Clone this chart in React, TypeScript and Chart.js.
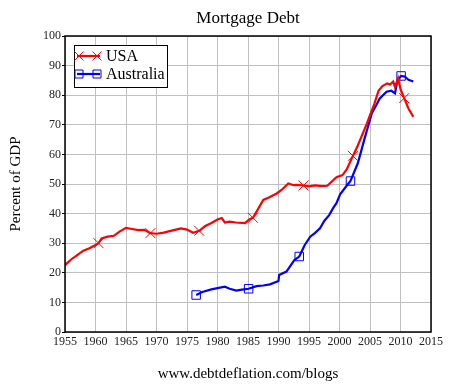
import React, { useEffect, useRef } from "react";
import { Chart, registerables } from "chart.js";
Chart.register(...registerables);

const titleText = "Mortgage Debt";
const yAxisTitle = "Percent of GDP";
const footerText = "www.debtdeflation.com/blogs";
const seriesNames = ["USA", "Australia"];

const usaYears = [1955, 1956, 1957, 1958, 1959, 1960, 1960.5, 1961, 1962, 1963, 1964, 1965, 1966, 1967, 1968, 1969, 1970, 1971, 1972, 1973, 1974, 1975, 1976, 1977, 1978, 1979, 1980, 1980.7, 1981.2, 1982, 1983, 1984.5, 1985.2, 1985.8, 1986.5, 1987.5, 1988.5, 1989.7, 1990.5, 1991.6, 1992.5, 1993, 1994.1, 1995, 1996, 1997, 1998, 1999.5, 2000.5, 2001.2, 2002.2, 2003, 2003.6, 2004.5, 2005, 2005.7, 2006.4, 2007, 2007.8, 2008.3, 2008.8, 2009.1, 2009.6, 2010, 2010.6, 2011.3, 2012.1];
const usaValues = [22.6, 24.5, 26, 27.5, 28.3, 29.4, 30, 31.6, 32.2, 32.5, 34, 35.2, 34.8, 34.4, 34.5, 33.4, 33.2, 33.5, 34, 34.5, 35, 34.6, 33.5, 34.2, 35.8, 36.8, 38, 38.5, 37, 37.3, 37, 36.8, 38, 38.6, 41, 44.6, 45.5, 46.8, 48, 50.2, 49.6, 49.7, 49.5, 49.2, 49.5, 49.3, 49.4, 52.3, 53, 55, 59.5, 63, 66, 70.5, 73.3, 77, 81.5, 83, 84, 83.6, 84.6, 82.8, 85.7, 82, 79, 75.5, 72.7];
const usaMarkerYears = [1960.5, 1969, 1977, 1985.8, 1994.1, 2002.2, 2010.6];

const ausYears = [1976.5, 1977.5, 1979, 1980, 1981.2, 1982, 1983.1, 1984, 1985.1, 1986.4, 1987.5, 1988.6, 1990, 1990.1, 1991.3, 1992.6, 1993.4, 1994.3, 1995.2, 1996, 1996.8, 1997.5, 1998.3, 1999, 1999.5, 2000.1, 2001.2, 2001.8, 2003, 2004.2, 2005.3, 2006, 2006.6, 2007.7, 2008.5, 2009.1, 2009.5, 2010.1, 2010.7, 2011.3, 2012.1];
const ausValues = [12.5, 13.5, 14.4, 14.8, 15.3, 14.6, 14, 14.3, 14.6, 15.5, 15.7, 16.1, 17.2, 19.3, 20.4, 24.3, 25.5, 29.4, 32.2, 33.5, 35, 37.5, 39.5, 42, 43.5, 46.5, 49.5, 51, 57, 66, 73.9, 76.5, 78.9, 81.2, 81.5, 80.6, 85, 86.5, 86.3, 85.2, 84.6];
const ausMarkerYears = [1976.5, 1985.1, 1993.4, 2001.8, 2010.1];

const SERIF = "'Liberation Serif', 'Times New Roman', serif";

const overlayPlugin = {
  id: "overlay",
  afterDraw(chart: any) {
    const ctx = chart.ctx;
    const a = chart.chartArea;
    ctx.save();
    ctx.strokeStyle = "#000";
    ctx.lineWidth = 1.5;
    ctx.strokeRect(a.left, a.top, a.right - a.left, a.bottom - a.top);
    ctx.fillStyle = "#000";
    ctx.textAlign = "center";
    ctx.textBaseline = "alphabetic";
    ctx.font = `17px ${SERIF}`;
    ctx.fillText(titleText, (a.left + a.right) / 2, 23);
    ctx.font = `15px ${SERIF}`;
    ctx.fillText(footerText, (a.left + a.right) / 2, 378);
    ctx.save();
    ctx.translate(20, (a.top + a.bottom) / 2);
    ctx.rotate(-Math.PI / 2);
    ctx.font = `15px ${SERIF}`;
    ctx.fillText(yAxisTitle, 0, 0);
    ctx.restore();
    const lx = a.left + 9, ly = a.top + 9, lw = 93, lh = 42;
    ctx.fillStyle = "#fff";
    ctx.fillRect(lx, ly, lw, lh);
    ctx.strokeStyle = "#000";
    ctx.lineWidth = 1;
    ctx.strokeRect(lx + 0.5, ly + 0.5, lw, lh);
    const rows = [
      { color: "#ff0000", y: ly + 11, style: "x" },
      { color: "#0000ff", y: ly + 29, style: "rect" },
    ];
    rows.forEach((r, i) => {
      ctx.strokeStyle = r.color;
      ctx.lineWidth = 2.2;
      ctx.beginPath();
      ctx.moveTo(lx + 3, r.y);
      ctx.lineTo(lx + 26, r.y);
      ctx.stroke();
      ctx.lineWidth = 1;
      [lx + 5, lx + 23].forEach((cx) => {
        ctx.beginPath();
        if (r.style === "x") {
          ctx.moveTo(cx - 4.5, r.y - 4.5);
          ctx.lineTo(cx + 4.5, r.y + 4.5);
          ctx.moveTo(cx + 4.5, r.y - 4.5);
          ctx.lineTo(cx - 4.5, r.y + 4.5);
        } else {
          ctx.rect(cx - 4, r.y - 4, 8, 8);
        }
        ctx.stroke();
      });
      ctx.fillStyle = "#000";
      ctx.textAlign = "left";
      ctx.textBaseline = "middle";
      ctx.font = `16px ${SERIF}`;
      ctx.fillText(seriesNames[i], lx + 32, r.y + 1);
    });
    ctx.restore();
  },
};

export default function App() {
  const ref = useRef<HTMLCanvasElement>(null);
  useEffect(() => {
    if (!ref.current) return;
    const usaData = usaYears.map((x, i) => ({ x, y: usaValues[i] }));
    const ausData = ausYears.map((x, i) => ({ x, y: ausValues[i] }));
    const chart = new Chart(ref.current, {
      type: "line",
      data: {
        datasets: [
          {
            label: seriesNames[0],
            data: usaData,
            borderColor: "#ff0000",
            backgroundColor: "rgba(0,0,0,0)",
            borderWidth: 2.2,
            tension: 0,
            pointStyle: "crossRot",
            pointRadius: (c: any) => (usaMarkerYears.includes(c.raw?.x) ? 7 : 0),
            pointBorderWidth: 1,
            pointBorderColor: "#ff0000",
            pointBackgroundColor: "rgba(0,0,0,0)",
          },
          {
            label: seriesNames[1],
            data: ausData,
            borderColor: "#0000ff",
            backgroundColor: "rgba(0,0,0,0)",
            borderWidth: 2.2,
            tension: 0,
            pointStyle: "rect",
            pointRadius: (c: any) => (ausMarkerYears.includes(c.raw?.x) ? 6 : 0),
            pointBorderWidth: 1,
            pointBorderColor: "#0000ff",
            pointBackgroundColor: "rgba(0,0,0,0)",
          },
        ],
      },
      options: {
        responsive: false,
        animation: false,
        parsing: false,
        layout: { padding: { top: 36, right: 21, left: 0, bottom: 0 } },
        plugins: {
          legend: { display: false },
          title: { display: false },
          tooltip: { enabled: false },
        },
        scales: {
          x: {
            type: "linear",
            min: 1955,
            max: 2015,
            afterFit: (s: any) => { s.height = 53; },
            ticks: {
              stepSize: 5,
              autoSkip: false,
              maxRotation: 0,
              padding: 3,
              color: "#222",
              font: { family: SERIF, size: 12 },
              callback: (v: any) => String(v),
            },
            grid: { color: "#c0c0c0", lineWidth: 1, drawTicks: false },
            border: { display: false },
          },
          y: {
            min: 0,
            max: 100,
            afterFit: (s: any) => { s.width = 65; },
            ticks: {
              stepSize: 10,
              padding: 1,
              color: "#222",
              font: { family: SERIF, size: 12 },
            },
            grid: { color: "#c0c0c0", lineWidth: 1, tickLength: 3, tickColor: "#000" },
            border: { display: false },
          },
        },
      },
      plugins: [overlayPlugin],
    } as any);
    return () => chart.destroy();
  }, []);
  return (
    <div style={{ position: "absolute", left: 0, top: 0, width: 452, height: 385, background: "#fff" }}>
      <canvas ref={ref} width={452} height={385} style={{ width: 452, height: 385 }} />
    </div>
  );
}
